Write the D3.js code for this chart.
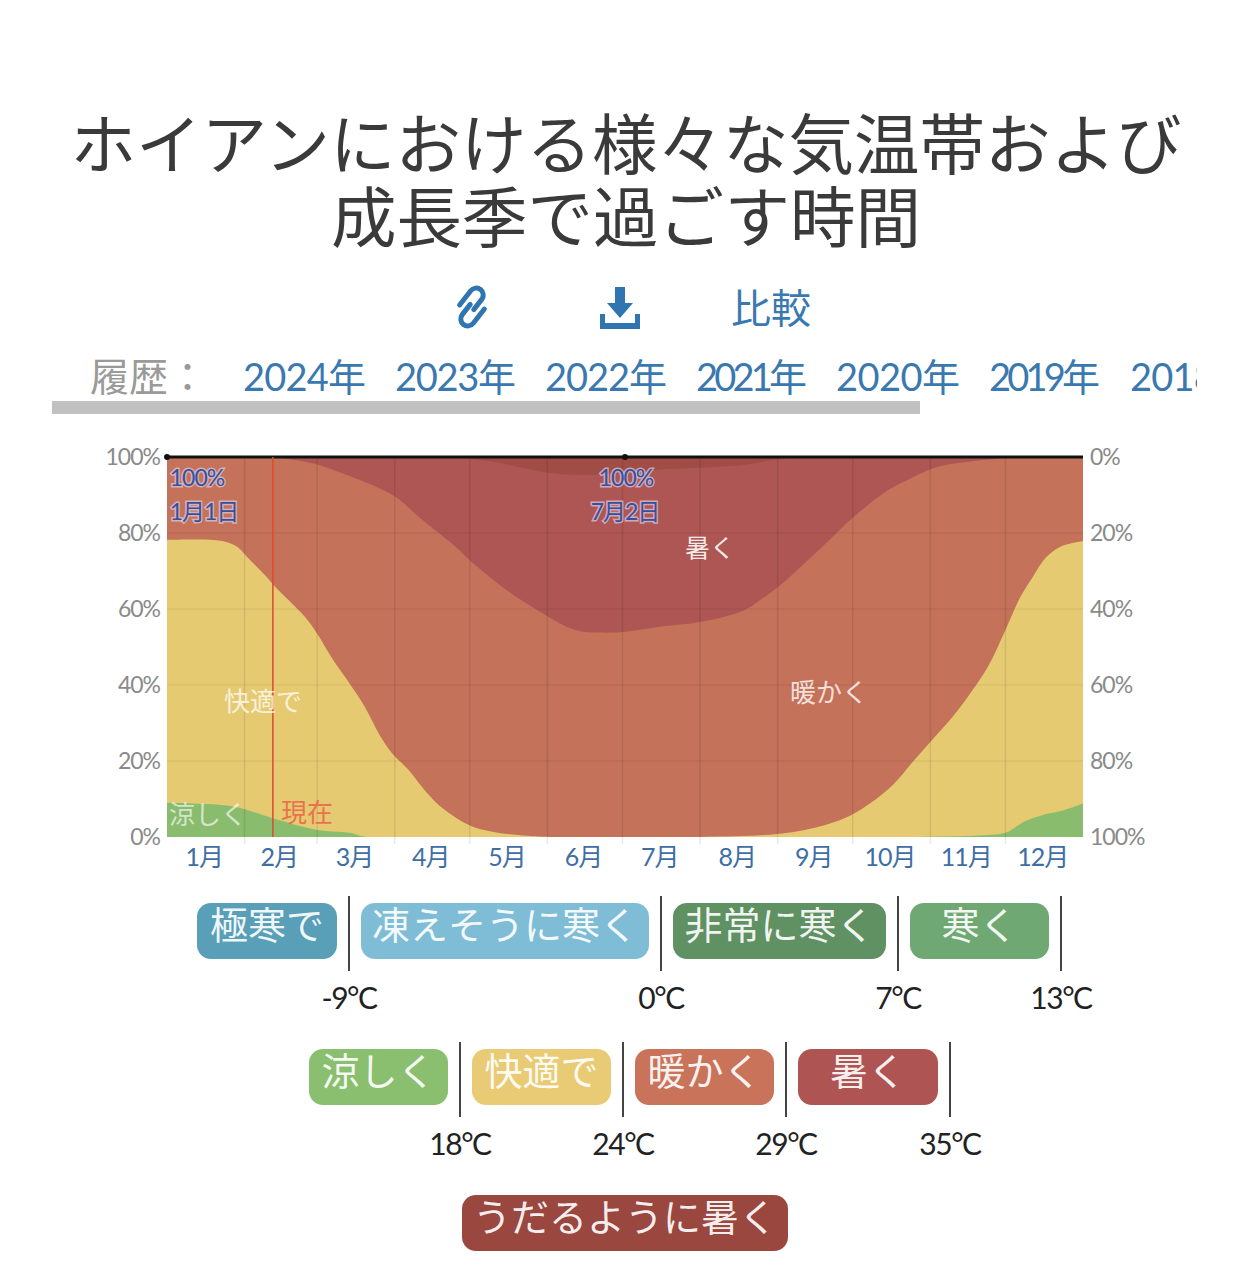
<!DOCTYPE html>
<html lang="ja"><head><meta charset="utf-8">
<script src="https://cdn.jsdelivr.net/npm/d3@7"></script>
<style>
html,body{margin:0;background:#fff}
svg{display:block}
text{font-family:Lato,"Noto Sans CJK JP",sans-serif}
</style></head><body><div id="c"></div>
<script>
const titleLines=["ホイアンにおける様々な気温帯および","成長季で過ごす時間"];
const historyLabel="履歴：";
const historyYears=["2024年","2023年","2022年","2021年","2020年","2019年","2018年"];
const compareLabel="比較";
const months=["1月","2月","3月","4月","5月","6月","7月","8月","9月","10月","11月","12月"];
const monthStarts=[0,31,60,91,121,152,182,213,244,274,305,335,366];
const pctTicks=[0,20,40,60,80,100];

// upper edge of each band, % of hours, by day of the year
const coolDays=[0,22,30,42,59,73,80,316,324,335,343,351,358,366];
const coolTop=[9,8.4,7.5,5,2,1.1,0,0.2,0.4,1.1,4.2,6,7,8.8];
const comfortDays=[0,12,22,28,33,39,43,55,60,66,72,79,85,90,96,104,110,121,130,144,153,213,244,258,267,274,281,290,298,305,314,320,328,335,341,346,351,357,366];
const comfortTop=[78.2,78.3,77.9,76.4,73,69,66,58,53.5,47,41.3,34.3,26.8,22,18,11.5,7.6,3,1.4,0.3,0,0,0.8,2.3,4,6,8.9,13.7,19.8,25,31.7,36.9,44.8,54.5,63.2,68.5,73.4,76.4,77.9];
const warmDays=[0,45,59,70,82,92,101,116,121,134,150,163,173,183,199,213,230,237,246,257,266,274,287,296,306,316,334,345,366];
const warmTop=[100,99.7,98.2,95.7,92.6,89.2,84,76,72.8,65.8,58.9,54.5,53.8,54,55.5,56.6,59.5,62.4,66.8,73.4,79,84,90.8,94,97,98.4,99.7,100,100];
const hotDays=[0,115,130,151,166,183,194,213,230,244,253,262,366];
const hotTop=[100,99.8,98.8,96,95.3,95.8,96.6,97.2,97.9,99.4,99.8,100,100];
const sweltering=[[0,100],[366,100]];
const nowDay=42.3;
const markerDays=[0,183];

const bandNames=["極寒で","凍えそうに寒く","非常に寒く","寒く","涼しく","快適で","暖かく","暑く","うだるように暑く"];
const bandColors=["#5a9fb8","#7fbdd6","#5f9163","#70a873","#8abf6f","#e8cb74","#c9745a","#ae5553","#9a4740"];
const bandLimits=["-9°C","0°C","7°C","13°C","18°C","24°C","29°C","35°C",null];

const W=1250,H=1280;
const svg=d3.select("#c").append("svg").attr("width",W).attr("height",H);
const defs=svg.append("defs");
defs.append("clipPath").attr("id","hist").append("rect").attr("x",0).attr("y",340).attr("width",1197).attr("height",70);

const x=d3.scaleLinear().domain([0,366]).range([167,1083]);
const y=d3.scaleLinear().domain([0,100]).range([837,457]);
const yr=d3.scaleLinear().domain([100,0]).range([837,457]);
defs.append("clipPath").attr("id","plot").append("rect").attr("x",x(0)).attr("y",y(100)).attr("width",x(366)-x(0)).attr("height",y(0)-y(100));

// header
svg.selectAll(".title").data(titleLines).join("text").attr("class","title")
 .attr("x",626).attr("y",(d,i)=>169+i*73).attr("text-anchor","middle")
 .attr("font-size",65.5).attr("font-weight",400).attr("fill","#3a3a3a")
 .style("font-family",'"Noto Sans CJK JP"').text(d=>d);

const blue="#2f75b0";
svg.append("text").attr("x",771).attr("y",323).attr("text-anchor","middle").attr("font-size",40).attr("fill","#3a78b0")
 .style("font-family",'"Noto Sans CJK JP"').attr("font-weight",400).text(compareLabel);
// link icon
const link=svg.append("g").attr("transform","translate(472,307) rotate(-52)").attr("fill","none").attr("stroke",blue).attr("stroke-width",5).attr("stroke-linecap","round");
link.append("path").attr("d","M-6,-11 L12,-11 A7,7 0 0 1 12,3 L-1,3");
link.append("path").attr("d","M6,11 L-12,11 A7,7 0 0 1 -12,-3 L1,-3");
// download icon
const dl=svg.append("g").attr("fill",blue);
dl.append("path").attr("d",d3.line()([[615,287],[625,287],[625,303],[633,303],[620,318],[607,303],[615,303]])+"Z");
dl.append("path").attr("d",d3.line()([[600,314],[605,314],[605,323],[635,323],[635,314],[640,314],[640,329],[600,329]])+"Z");

svg.append("text").attr("x",90).attr("y",391).attr("font-size",39).attr("fill","#9a9a9a").attr("font-weight",400)
 .style("font-family",'"Noto Sans CJK JP"').text(historyLabel);
const yearX=[243,395,545,696,836,989,1130];
const yearW=[123,121,122,111,124,111,123];
svg.append("g").attr("clip-path","url(#hist)").selectAll("text").data(historyYears).join("text")
 .attr("x",(d,i)=>yearX[i]).attr("y",391).attr("font-size",38).attr("fill","#3a78b0")
 .attr("textLength",(d,i)=>yearW[i]).attr("lengthAdjust","spacing").text(d=>d);
svg.append("rect").attr("x",52).attr("y",401).attr("width",868).attr("height",13).attr("fill","#c1c1c1");

// stacked bands, painted from the back
const plot=svg.append("g").attr("clip-path","url(#plot)");
const area=d3.area().x(d=>x(d[0])).y0(y(0)).y1(d=>y(d[1])).curve(d3.curveCatmullRom.alpha(0.5));
const zip=(a,b)=>a.map((d,i)=>[d,b[i]]);
[[sweltering,"#a04d45"],[zip(hotDays,hotTop),"#ad5654"],[zip(warmDays,warmTop),"#c4725a"],[zip(comfortDays,comfortTop),"#e6ca72"],[zip(coolDays,coolTop),"#8abc6d"]]
 .forEach(([d,c])=>plot.append("path").attr("d",area(d)).attr("fill",c));

// axes
const styleAxis=(g,col,size)=>{g.select(".domain").remove();g.selectAll("text").attr("fill",col).attr("font-size",size).attr("letter-spacing",-1);};
const grid=svg.append("g");
grid.selectAll(".h").data(pctTicks.slice(1,-1)).join("line").attr("x1",167).attr("x2",1083)
 .attr("y1",d=>y(d)).attr("y2",d=>y(d)).attr("stroke","rgba(0,0,0,.05)").attr("stroke-width",1.5);
grid.selectAll(".v").data(monthStarts.slice(1,-1)).join("line").attr("x1",d=>x(d)).attr("x2",d=>x(d))
 .attr("y1",457).attr("y2",844).attr("stroke","rgba(0,0,0,.09)").attr("stroke-width",1.5);

svg.append("g").attr("transform","translate(160,0)")
 .call(d3.axisLeft(y).tickValues(pctTicks).tickSize(0).tickPadding(0).tickFormat(d=>d+"%"))
 .call(g=>styleAxis(g,"#8a8a8a",23));
svg.append("g").attr("transform","translate(1090,0)")
 .call(d3.axisRight(yr).tickValues(pctTicks).tickSize(0).tickPadding(0).tickFormat(d=>d+"%"))
 .call(g=>styleAxis(g,"#8a8a8a",23));
const mids=months.map((m,i)=>(monthStarts[i]+monthStarts[i+1])/2);
svg.append("g").attr("transform","translate(-2,847)")
 .call(d3.axisBottom(x).tickValues(mids).tickSize(0).tickPadding(1).tickFormat((d,i)=>months[i]))
 .call(g=>styleAxis(g,"#3e6ea6",25));

// top line and markers
svg.append("line").attr("x1",x(0)).attr("x2",x(366)).attr("y1",y(100)).attr("y2",y(100)).attr("stroke","#111").attr("stroke-width",3);
svg.selectAll(".mk").data(markerDays).join("circle").attr("cx",d=>x(d)).attr("cy",y(100)).attr("r",3).attr("fill","#111");
// today
svg.append("line").attr("x1",x(nowDay)).attr("x2",x(nowDay)).attr("y1",457).attr("y2",837).attr("stroke","#df4a2e").attr("stroke-width",1.5);

// inline labels
const note=(t,px,py,size,fill,anchor="middle")=>svg.append("text").attr("x",px).attr("y",py).attr("text-anchor",anchor)
 .attr("font-size",size).attr("fill",fill).text(t);
const halo=(t,px,py)=>note(t,px,py,23,"#34509f").attr("letter-spacing",-1).attr("stroke","rgba(225,205,225,.7)").attr("stroke-width",3).style("paint-order","stroke");
halo("100%",197,486);halo("1月1日",204,520);halo("100%",626,486);halo("7月2日",625,520);
note(bandNames[7],710,557,25,"rgba(255,255,255,.9)");
note(bandNames[6],829,702,26,"rgba(255,255,255,.8)");
note(bandNames[5],263,711,26,"rgba(255,255,255,.75)");
note(bandNames[4],208,824,26,"rgba(255,255,255,.65)");
note("現在",307,822,26,"#e8734f");

// legend: boxes flow left to right, each followed by its upper limit
const rows=[{start:197,top:903,idx:[0,1,2,3],w:[140,288,213,139]},{start:309,top:1049,idx:[4,5,6,7],w:[139,139,139,140]},{start:462,top:1195,idx:[8],w:[326]}];
const lg=svg.append("g");
rows.forEach(r=>{
  let cx=r.start;
  r.idx.forEach((k,j)=>{
    const w=r.w[j];
    lg.append("rect").attr("x",cx).attr("y",r.top).attr("width",w).attr("height",56).attr("rx",14).attr("fill",bandColors[k]);
    lg.append("text").attr("x",cx+w/2).attr("y",r.top+36).attr("text-anchor","middle").attr("font-size",38)
      .attr("fill","rgba(255,255,255,.92)").attr("font-weight",400).style("font-family",'"Noto Sans CJK JP"').text(bandNames[k]);
    cx+=w+12;
    if(bandLimits[k]){
      lg.append("line").attr("x1",cx).attr("x2",cx).attr("y1",r.top-7).attr("y2",r.top+68).attr("stroke","#444").attr("stroke-width",2);
      lg.append("text").attr("x",cx).attr("y",r.top+106).attr("text-anchor","middle").attr("font-size",30).attr("letter-spacing",-1.5).attr("fill","#222").text(bandLimits[k]);
      cx+=12;
    }
  });
});
</script></body></html>
